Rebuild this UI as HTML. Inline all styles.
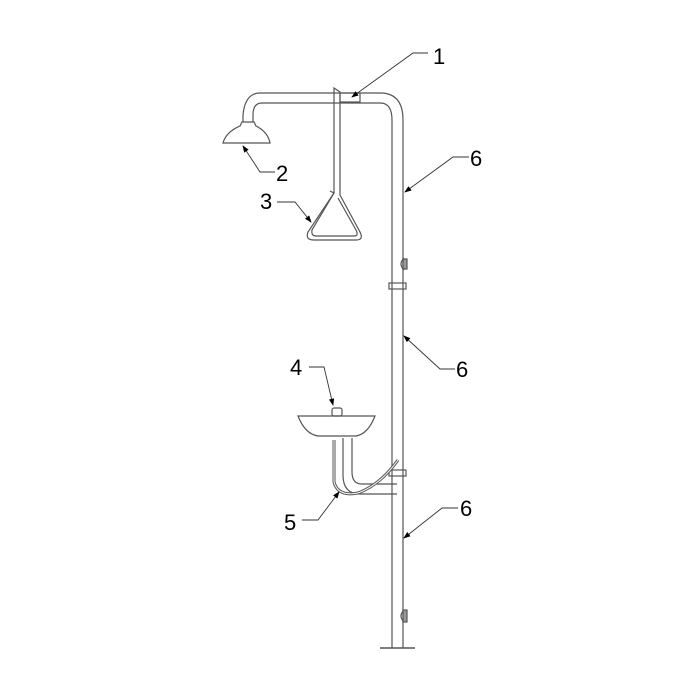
<!DOCTYPE html>
<html><head><style>body{margin:0;background:#fff}svg{display:block}</style></head><body>
<svg width="700" height="700" viewBox="0 0 700 700" xmlns="http://www.w3.org/2000/svg" font-family="Liberation Sans, sans-serif">
<defs><marker id="a" markerWidth="8" markerHeight="6" refX="7" refY="3" orient="auto"><path d="M0,0 L8,3 L0,6z" fill="#000"/></marker></defs>
<g fill="none" stroke="#555" stroke-width="1.2">
<line x1="392" y1="120" x2="392" y2="648"/><line x1="403" y1="120" x2="403" y2="648"/>
<line x1="380" y1="648" x2="415" y2="648" stroke-width="1.6"/>
<path d="M403,120 Q403,93 380,93 L260,93 Q245,93 243,115 L243,122"/>
<path d="M392,120 Q392,103 380,103 L262,103 Q253,103 253,115 L253,122"/>
<path d="M242,122 L254,122 L256,126 Q268,132 270,143 L223,143 Q226,132 240,126 Z"/>
<rect x="340" y="93" width="20" height="9"/>
<path d="M334,88 L334,193 L308,232 Q305,240 314,240 L356,240 Q364,240 360,232 L340,195 L340,92 Z"/>
<path d="M330,191 L334,193 L312,230 Q311,236 316,236 L354,236 Q359,236 356,230 L338,198"/>
<rect x="389" y="283" width="17" height="6"/><rect x="389" y="470" width="17" height="6"/>
<path d="M404,258 Q398,264 404,270 M404,610 Q398,616 404,622"/>
<rect x="403" y="259" width="4" height="10" fill="#999"/><rect x="403" y="610" width="4" height="12" fill="#999"/>
<path d="M298,416 L375,416 Q368,434 356,436 L318,436 Q305,434 298,416 Z"/>
<rect x="332" y="408" width="10" height="8" rx="2"/>
<path d="M343,438 L343,475 Q343,494 360,494 L397,494"/>
<path d="M352,438 L352,472 Q352,484 362,484 L397,484"/>
<path d="M334,440 L334,482 Q338,497 358,493 Q380,485 398,460" stroke-width="3"/>
<path d="M334,440 L334,482 Q338,497 358,493 Q380,485 398,460" stroke="#fff" stroke-width="1"/>
</g>
<g fill="none" stroke="#333" stroke-width="0.9">
<polyline points="428,53 413,53 352,97" marker-end="url(#a)"/>
<polyline points="275,172 260,172 243,146" marker-end="url(#a)"/>
<polyline points="277,202 295,202 311,222" marker-end="url(#a)"/>
<polyline points="309,367 324,367 333,405" marker-end="url(#a)"/>
<polyline points="302,520 318,520 339,492" marker-end="url(#a)"/>
<polyline points="469,157 453,157 405,192" marker-end="url(#a)"/>
<polyline points="455,369 440,369 404,336" marker-end="url(#a)"/>
<polyline points="458,508 442,508 404,538" marker-end="url(#a)"/>
</g>
<g font-size="22" fill="#000">
<text x="433" y="64">1</text><text x="276" y="181">2</text><text x="260" y="209">3</text>
<text x="290" y="375">4</text><text x="284" y="530">5</text>
<text x="470" y="166">6</text><text x="456" y="377">6</text><text x="460" y="516">6</text>
</g>
</svg>
</body></html>
